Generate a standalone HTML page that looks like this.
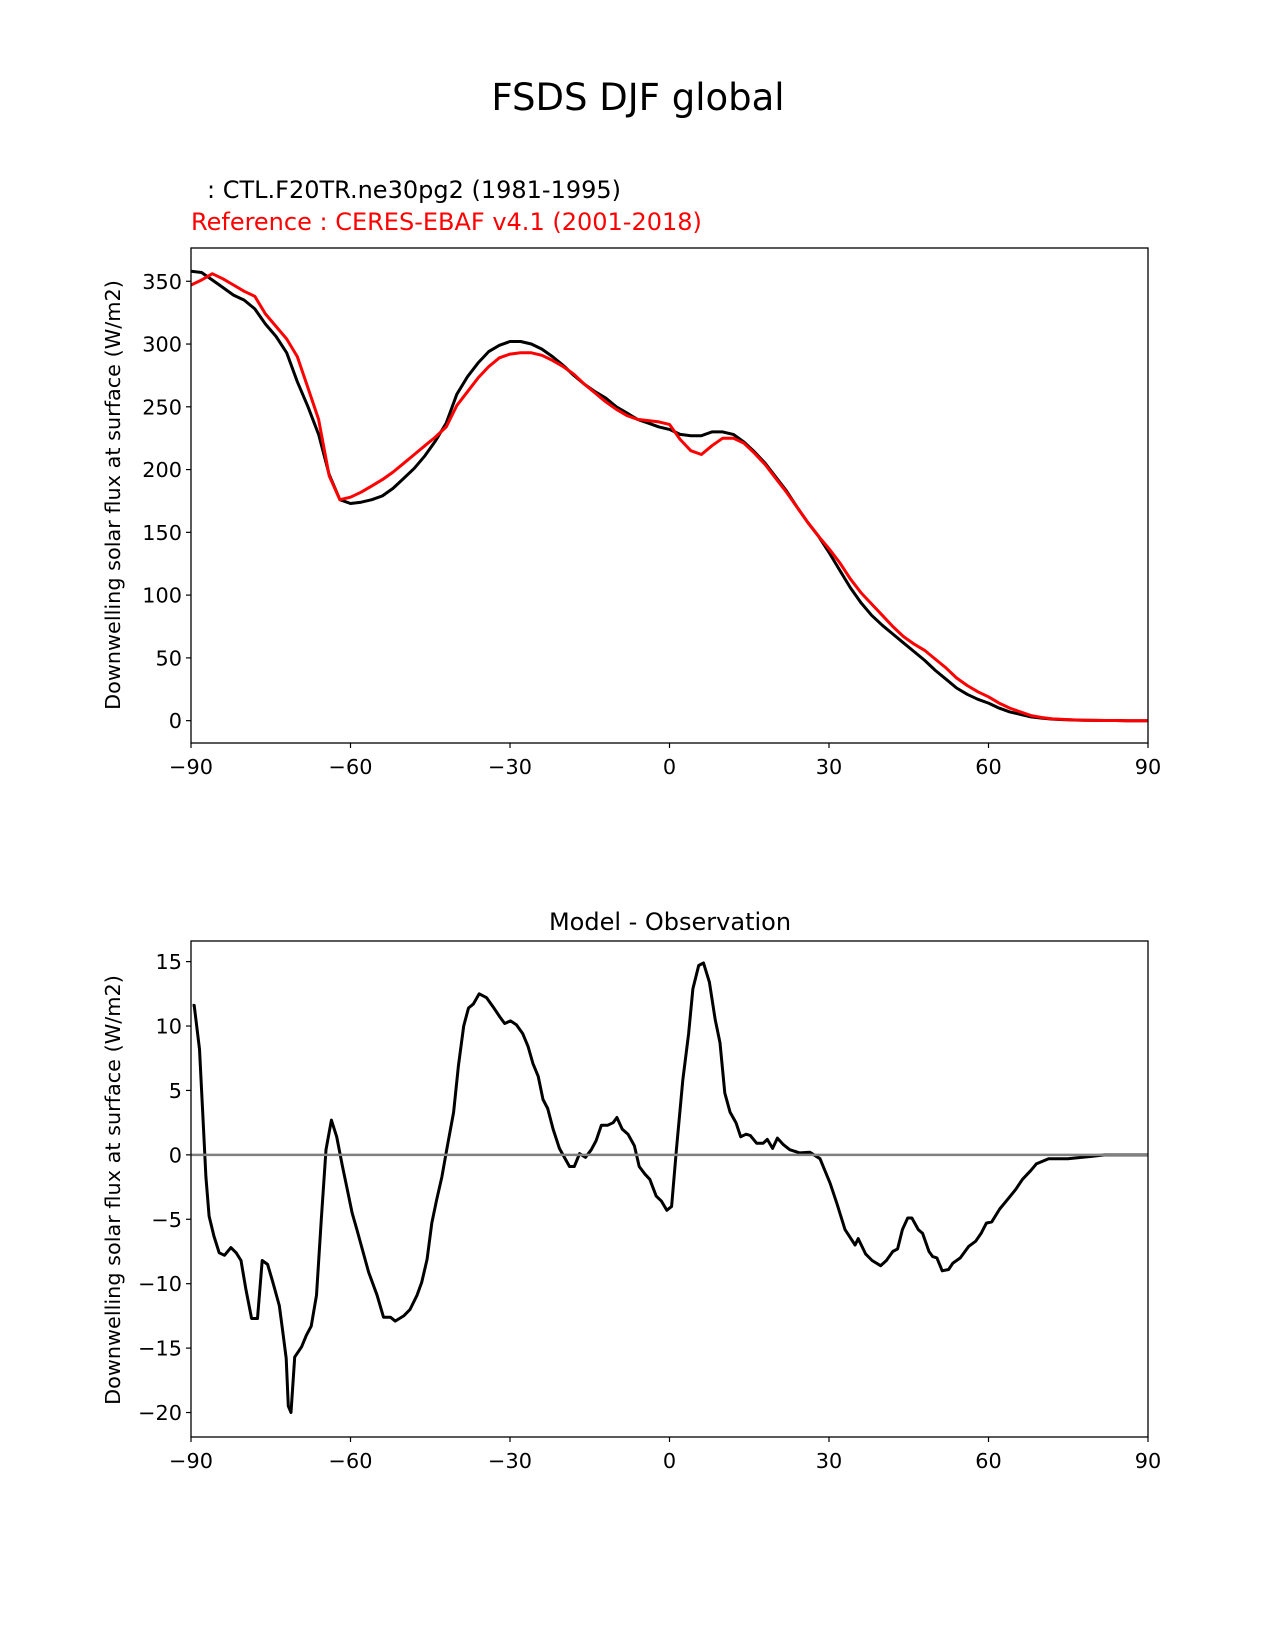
<!DOCTYPE html>
<html><head><meta charset="utf-8"><style>
body{margin:0;background:#fff;}
svg{display:block;font-family:"DejaVu Sans","Liberation Sans",sans-serif;}
</style></head><body>
<svg id="fig" width="1275" height="1650" viewBox="0 0 1275 1650">
<text x="638" y="110" font-size="37" text-anchor="middle">FSDS DJF global</text>
<text x="207" y="198" font-size="24">  : CTL.F20TR.ne30pg2 (1981-1995)</text>
<text x="191" y="230" font-size="24" fill="#ff0000">Reference : CERES-EBAF v4.1 (2001-2018)</text>
<text x="670" y="930" font-size="24" text-anchor="middle">Model - Observation</text>
<g id="top"></g>
<g id="bot"></g>
</svg>
<script>
const lats2 = [-90,-88,-86,-84,-82,-80,-78,-76,-74,-72,-70,-68,-66,-64,-62,-60,-58,-56,-54,-52,-50,-48,-46,-44,-42,-40,-38,-36,-34,-32,-30,-28,-26,-24,-22,-20,-18,-16,-14,-12,-10,-8,-6,-4,-2,0,2,4,6,8,10,12,14,16,18,20,22,24,26,28,30,32,34,36,38,40,42,44,46,48,50,52,54,56,58,60,62,64,66,68,70,72,74,76,78,80,82,84,86,88,90];
const modelVals = [358,357,351,345,339,335,328,316,306,293,270,250,228,196,176,173,174,176,179,185,193,201,211,223,237,260,274,285,294,299,302,302,300,296,290,283,275,268,262,257,250,245,240,237,234,232,228,227,227,230,230,228,222,214,205,194,183,170,158,147,134,120,106,94,84,76,69,62,55,48,40,33,26,21,17,14,10,7,5,3,2,1.2,0.8,0.5,0.3,0.2,0.1,0.1,0,0,0];
const refVals = [347,351,356,352,347,342,338,324,314,304,290,265,240,195,176,178,182,187,192,198,205,212,219,226,234,251,262,273,282,289,292,293,293,291,287,282,276,268,261,254,248,243,240,239,238,236,224,215,212,219,225,225,221,213,204,193,182,170,158,147,137,126,113,102,93,84,75,67,61,56,49,42,34,28,23,19,14,10,7,4,2.5,1.4,1,0.6,0.4,0.2,0.1,0.1,0,0,0];
const diffLats = [-89.7,-89.4,-88.4,-87.8,-87.2,-86.6,-85.7,-84.7,-83.7,-82.5,-81.5,-80.6,-79.7,-78.6,-77.5,-76.6,-75.6,-74.6,-73.4,-72.8,-72.1,-71.7,-71.2,-70.5,-69.2,-68.3,-67.4,-66.4,-65.5,-64.6,-63.6,-62.6,-61.5,-60.6,-59.7,-58.8,-57.8,-56.6,-55.0,-53.8,-52.5,-51.6,-50.0,-48.8,-47.5,-46.6,-45.6,-44.7,-43.8,-42.8,-41.9,-40.6,-39.7,-38.7,-37.8,-36.9,-35.8,-34.4,-33.2,-31.9,-31.0,-29.9,-28.8,-27.6,-26.6,-25.7,-24.7,-23.8,-22.9,-21.9,-20.7,-18.8,-17.9,-16.9,-15.8,-14.7,-13.8,-12.8,-11.6,-10.6,-9.9,-8.9,-7.8,-6.6,-5.7,-4.6,-3.7,-2.5,-1.5,-0.5,0.4,1.3,2.5,3.6,4.4,5.5,6.4,7.5,8.6,9.5,10.4,11.4,12.5,13.4,14.4,15.2,16.4,17.6,18.4,19.4,20.3,21.4,22.6,24.5,26.4,28.3,30.2,31.5,33.0,34.9,35.5,36.9,38.1,39.7,40.8,42.0,42.9,43.8,44.8,45.6,46.8,47.6,48.8,49.5,50.3,51.3,52.5,53.3,54.7,56.3,57.6,58.6,59.6,60.6,62.1,63.7,65.1,66.4,68.0,69.0,71.3,74.9,79.8,81.8,90];
const diffVals = [11.6,11.6,8.2,3.3,-1.7,-4.75,-6.3,-7.6,-7.8,-7.2,-7.6,-8.2,-10.4,-12.7,-12.7,-8.2,-8.5,-9.9,-11.7,-13.5,-15.8,-19.5,-20,-15.7,-14.9,-14.0,-13.3,-10.9,-5.0,0.4,2.7,1.4,-0.9,-2.7,-4.5,-5.8,-7.3,-9.1,-10.9,-12.6,-12.6,-12.9,-12.5,-12.0,-10.9,-9.9,-8.1,-5.3,-3.5,-1.7,0.4,3.3,6.9,10.0,11.4,11.7,12.5,12.2,11.5,10.7,10.2,10.4,10.1,9.4,8.4,7.1,6.1,4.3,3.6,2.0,0.5,-0.9,-0.9,0.1,-0.2,0.4,1.1,2.3,2.3,2.5,2.9,2.0,1.6,0.7,-0.9,-1.5,-1.9,-3.2,-3.6,-4.3,-4.0,0.4,5.8,9.4,12.9,14.7,14.9,13.4,10.5,8.7,4.8,3.3,2.5,1.4,1.6,1.5,0.9,0.9,1.2,0.5,1.3,0.8,0.4,0.15,0.2,-0.3,-2.2,-3.8,-5.8,-7.0,-6.5,-7.7,-8.2,-8.6,-8.2,-7.5,-7.3,-5.8,-4.9,-4.9,-5.8,-6.1,-7.5,-7.9,-8.0,-9.0,-8.9,-8.4,-8.0,-7.1,-6.7,-6.1,-5.3,-5.2,-4.2,-3.4,-2.7,-1.9,-1.2,-0.7,-0.3,-0.3,-0.1,0,0];
const xTicks = [-90,-60,-30,0,30,60,90];
const topYTicks = [0,50,100,150,200,250,300,350];
const botYTicks = [-20,-15,-10,-5,0,5,10,15];

const NS='http://www.w3.org/2000/svg';
function mk(tag, attrs, parent){const e=document.createElementNS(NS,tag);for(const k in attrs)e.setAttribute(k,attrs[k]);parent.appendChild(e);return e;}
function fmt(v){return v<0?'\u2212'+Math.abs(v):String(v);}

function panel(g, box, ymin, ymax, yTicks, series, zeroLine, axisLabelY){
  const L=191,R=1148;
  const sx=v=>L+(v+90)/180*(R-L);
  const sy=v=>box.bot-(v-ymin)/(ymax-ymin)*(box.bot-box.top);
  const clipId='clip'+box.top;
  const cp=mk('clipPath',{id:clipId},g);
  mk('rect',{x:L,y:box.top,width:R-L,height:box.bot-box.top},cp);
  const lg=mk('g',{'clip-path':'url(#'+clipId+')'},g);
  series.forEach(s=>{
    const d=s.lats.map((la,i)=>(i?'L':'M')+sx(la).toFixed(1)+','+sy(s.vals[i]).toFixed(1)).join('');
    const p=mk('path',{d:d,fill:'none',stroke:s.color,'stroke-width':3,'stroke-linejoin':'round'},lg);
    
    
  });
  if(zeroLine){
    const z=mk('line',{x1:L,x2:R,y1:sy(0),y2:sy(0),stroke:'#808080','stroke-width':2.5},lg);
    
    
  }
  const fr=mk('rect',{x:L,y:box.top,width:R-L,height:box.bot-box.top,fill:'none',stroke:'#000','stroke-width':1.3},g);
  
  
  xTicks.forEach(t=>{
    mk('line',{x1:sx(t),x2:sx(t),y1:box.bot,y2:box.bot+5,stroke:'#000','stroke-width':1.2},g);
    const tx=mk('text',{x:sx(t),y:box.bot+31,'font-size':20.8,'text-anchor':'middle'},g);
    tx.textContent=fmt(t);
    
    
  });
  yTicks.forEach(t=>{
    mk('line',{x1:L-5,x2:L,y1:sy(t),y2:sy(t),stroke:'#000','stroke-width':1.2},g);
    const tx=mk('text',{x:L-9,y:sy(t)+7.5,'font-size':20.8,'text-anchor':'end'},g);
    tx.textContent=fmt(t);
    
    
  });
  const yl=mk('text',{x:0,y:0,'font-size':20.8,'text-anchor':'middle',transform:'translate(120,'+axisLabelY+') rotate(-90)'},g);
  yl.textContent='Downwelling solar flux at surface (W/m2)';
  
  
}
panel(document.getElementById('top'),{top:248,bot:743},-17.8,376.5,topYTicks,
  [{lats:lats2,vals:modelVals,color:'#000',name:'model-line'},{lats:lats2,vals:refVals,color:'#ff0000',name:'reference-line'}],false,495);
panel(document.getElementById('bot'),{top:941,bot:1437},-21.9,16.6,botYTicks,
  [{lats:diffLats,vals:diffVals,color:'#000',name:'difference-line'}],true,1190);
</script>
</body></html>
